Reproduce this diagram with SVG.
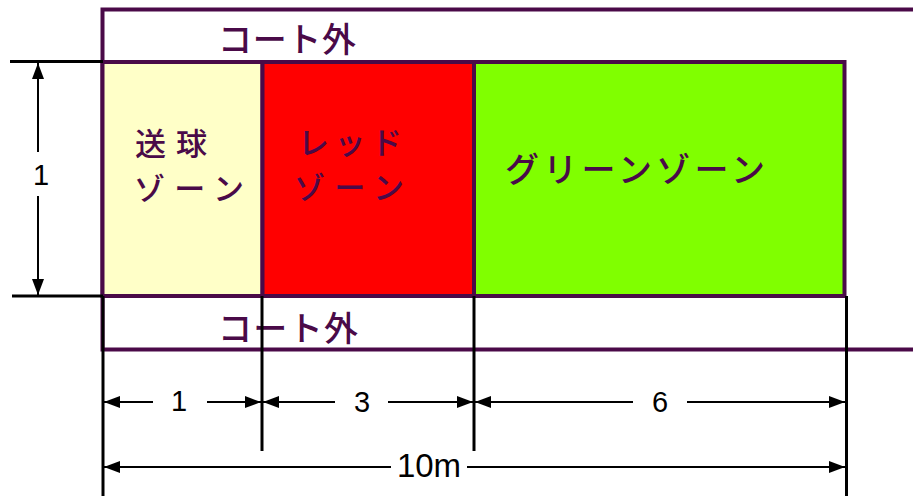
<svg xmlns="http://www.w3.org/2000/svg" width="913" height="496" viewBox="0 0 913 496">
<defs>
<style>
.zone{stroke:#4a0a48;stroke-width:4}
.jp{font-family:"Noto Sans CJK JP","Noto Sans",sans-serif;font-size:34px;fill:#4a0a48;font-weight:500}
.jp2{font-size:31px}
.num{font-family:"Liberation Sans",Arial,sans-serif;fill:#000}
.dim{stroke:#000;stroke-width:2;fill:none}
.ext{stroke:#000;stroke-width:3;fill:none}
</style>
<marker id="ah" viewBox="0 0 16 12" refX="16" refY="6" markerWidth="16" markerHeight="12" markerUnits="userSpaceOnUse" orient="auto">
<path d="M0,0 L16,6 L0,12 z" fill="#000"/>
</marker>
</defs>
<rect width="913" height="496" fill="#fff"/>
<g id="court-outside">
<path d="M915,9.5 H102.5 V349.5 H915" fill="none" class="zone"/>
<text class="jp" x="218" y="52" textLength="138" lengthAdjust="spacing">コート外</text>
<text class="jp" x="218" y="341" textLength="140" lengthAdjust="spacing">コート外</text>
</g>
<g id="serve-zone">
<rect x="102.5" y="62" width="160" height="234" fill="#ffffc8" class="zone"/>
<text class="jp jp2" x="135" y="155" textLength="72" lengthAdjust="spacing">送球</text>
<text class="jp jp2" x="134" y="200" textLength="110" lengthAdjust="spacing">ゾーン</text>
</g>
<g id="red-zone">
<rect x="262.5" y="62" width="211.5" height="234" fill="#ff0000" class="zone"/>
<text class="jp jp2" x="298" y="154" textLength="104" lengthAdjust="spacing">レッド</text>
<text class="jp jp2" x="294" y="199" textLength="110" lengthAdjust="spacing">ゾーン</text>
</g>
<g id="green-zone">
<rect x="474" y="62" width="370.5" height="234" fill="#80ff00" class="zone"/>
<text class="jp" x="505" y="182" textLength="260" lengthAdjust="spacing">グリーンゾーン</text>
</g>
<g id="connectors">
<line class="ext" x1="10" y1="61.5" x2="103" y2="61.5"/>
<line class="ext" x1="12" y1="296" x2="103" y2="296"/>
<line class="ext" x1="103" y1="296" x2="103" y2="496"/>
<line class="ext" x1="262" y1="296" x2="262" y2="451"/>
<line class="ext" x1="474" y1="296" x2="474" y2="451"/>
<line class="ext" x1="846.5" y1="296" x2="846.5" y2="496"/>
<line class="dim" x1="38" y1="152" x2="38" y2="63" marker-end="url(#ah)"/>
<line class="dim" x1="38" y1="196" x2="38" y2="295" marker-end="url(#ah)"/>
<line class="dim" x1="153" y1="402" x2="104" y2="402" marker-end="url(#ah)"/>
<line class="dim" x1="207" y1="402" x2="261" y2="402" marker-end="url(#ah)"/>
<line class="dim" x1="335" y1="402" x2="263" y2="402" marker-end="url(#ah)"/>
<line class="dim" x1="388" y1="402" x2="473" y2="402" marker-end="url(#ah)"/>
<line class="dim" x1="633" y1="402" x2="475" y2="402" marker-end="url(#ah)"/>
<line class="dim" x1="687" y1="402" x2="845" y2="402" marker-end="url(#ah)"/>
<line class="dim" x1="391" y1="467" x2="104" y2="467" marker-end="url(#ah)"/>
<line class="dim" x1="467" y1="467" x2="845" y2="467" marker-end="url(#ah)"/>
</g>
<g id="dimension-labels">
<text class="num" x="41" y="185" font-size="29" text-anchor="middle">1</text>
<text class="num" x="179" y="411" font-size="29" text-anchor="middle">1</text>
<text class="num" x="362" y="412" font-size="29" text-anchor="middle">3</text>
<text class="num" x="660" y="412" font-size="29" text-anchor="middle">6</text>
<text class="num" x="429" y="477" font-size="33" text-anchor="middle">10m</text>
</g>
</svg>
